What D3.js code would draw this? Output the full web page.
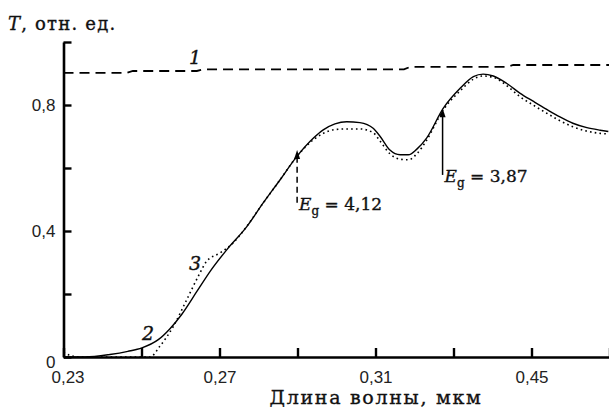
<!DOCTYPE html>
<html><head><meta charset="utf-8">
<script src="https://cdn.jsdelivr.net/npm/d3@7"></script>
<style>
html,body{margin:0;padding:0;background:#fff;}
svg{display:block;}
.tick text{font-family:"Liberation Sans Narrow","Liberation Sans",Arial,sans-serif;font-size:17px;fill:#222;}
.serif{font-family:"DejaVu Serif","Liberation Serif",serif;fill:#111;stroke:#111;stroke-width:0.35;}
</style></head>
<body>
<script>
// ---- data ----
const xTicks = [0.23,0.25,0.27,0.29,0.31,0.33,0.35,0.37];
const xTickLabels = ["0,23","","0,27","","0,31","","0,45",""];
const yTicks = [0,0.2,0.4,0.6,0.8,1.0];
const yTickLabels = ["0","","0,4","","0,8",""];

// curve 1 (dashed)
const c1x = [0.23,0.2462,0.2478,0.2642,0.2658,0.3173,0.3189,0.3437,0.3453,0.37];
const c1y = [0.902,0.902,0.908,0.908,0.913,0.913,0.921,0.921,0.927,0.927];

// curve 2 (solid)
const c2x = [0.23,0.2355,0.2419,0.2465,0.2501,0.2543,0.2573,0.2603,0.2642,0.2676,0.2719,0.2770,0.2812,0.2855,0.2898,0.2941,0.2966,0.2996,0.3026,0.3060,0.3094,0.3112,0.3137,0.3163,0.3184,0.3206,0.3231,0.3274,0.3317,0.3351,0.3376,0.3402,0.3436,0.3471,0.3504,0.3539,0.3573,0.3606,0.3642,0.3676,0.3697];
const c2y = [0.0,0.0,0.008,0.018,0.029,0.055,0.09,0.135,0.208,0.272,0.341,0.414,0.489,0.562,0.636,0.695,0.721,0.740,0.747,0.744,0.726,0.700,0.657,0.642,0.642,0.660,0.695,0.790,0.853,0.890,0.898,0.892,0.869,0.837,0.812,0.786,0.762,0.742,0.728,0.720,0.716];

// curve 3 (dotted)
const c3x = [0.23,0.2317,0.2342,0.2522,0.2547,0.2582,0.2616,0.2650,0.2667,0.2701,0.2735,0.2757,0.2812,0.2855,0.2898,0.2941,0.2966,0.2996,0.3026,0.3060,0.3094,0.3112,0.3137,0.3163,0.3184,0.3206,0.3231,0.3274,0.3317,0.3351,0.3376,0.3402,0.3436,0.3471,0.3504,0.3539,0.3573,0.3606,0.3642,0.3676,0.3697];
const c3y = [0.015,0.005,0.0,0.0,0.034,0.098,0.182,0.267,0.304,0.330,0.362,0.394,0.489,0.562,0.636,0.690,0.710,0.722,0.724,0.724,0.712,0.685,0.645,0.628,0.626,0.645,0.688,0.785,0.845,0.882,0.892,0.888,0.862,0.826,0.800,0.774,0.750,0.731,0.717,0.710,0.708];

// annotations
const curveLabels = ["1","2","3"];
const curveLabelX = [0.2622,0.2501,0.2622];
const curveLabelY = [0.930,0.055,0.277];
const egText = ["4,12","3,87"];
const egX = [0.2899,0.3272];
const egTip = [0.657,0.790];
const egBase = [0.490,0.578];

// ---- layout ----
const W=609,H=411;
const svg=d3.select("body").append("svg").attr("width",W).attr("height",H);
const x=d3.scaleLinear().domain([0.23,0.37]).range([63.5,609.5]);
const y=d3.scaleLinear().domain([0,1]).range([357,42]);

// axes
const xAxis=d3.axisBottom(x).tickValues(xTicks).tickFormat((d,i)=>xTickLabels[i])
  .tickSizeInner(-9).tickSizeOuter(0).tickPadding(14);
const gx=svg.append("g").attr("transform",`translate(0,${y(0)})`).call(xAxis);
const yAxis=d3.axisLeft(y).tickValues(yTicks).tickFormat((d,i)=>yTickLabels[i])
  .tickSizeInner(-8).tickSizeOuter(0).tickPadding(8);
const gy=svg.append("g").attr("transform",`translate(${x(0.23)},0)`).call(yAxis);
[gx,gy].forEach(g=>{
  g.select(".domain").attr("stroke","#000").attr("stroke-width",2.6);
  g.selectAll(".tick line").attr("stroke","#000").attr("stroke-width",2.4);
});
gy.selectAll(".tick text").filter((d)=>d===0).attr("dy","0.6em");
gx.selectAll(".tick text").filter((d)=>d===0.23).attr("dx","4");

// curves
const line=d3.line().curve(d3.curveMonotoneX);
function pts(xs,ys){return xs.map((v,i)=>[x(v),y(ys[i])]);}
svg.append("path").attr("d",d3.line()(pts(c1x,c1y))).attr("fill","none")
  .attr("stroke","#000").attr("stroke-width",1.8).attr("stroke-dasharray","10,6");
svg.append("path").attr("d",line(pts(c3x,c3y))).attr("fill","none")
  .attr("stroke","#000").attr("stroke-width",1.6).attr("stroke-dasharray","1.6,3.2");
svg.append("path").attr("d",line(pts(c2x,c2y))).attr("fill","none")
  .attr("stroke","#000").attr("stroke-width",1.4);

// arrows
egX.forEach((v,i)=>{
  const ax=x(v), ty=y(egTip[i]), by=y(egBase[i]);
  svg.append("line").attr("x1",ax).attr("x2",ax).attr("y1",by).attr("y2",ty+7)
    .attr("stroke","#000").attr("stroke-width",1.5)
    .attr("stroke-dasharray",i===0?"6,4":null);
  svg.append("path").attr("d",`M${ax},${ty} L${ax-3},${ty+9} L${ax+3},${ty+9} Z`).attr("fill","#000");
  const t=svg.append("text").attr("class","serif").attr("x",ax+2).attr("y",by+7).attr("font-size",17);
  t.append("tspan").attr("font-style","italic").text("E");
  t.append("tspan").attr("font-size",12).attr("dy",5).text("g");
  t.append("tspan").attr("dy",-5).text(" = "+egText[i]);
});

// curve labels
curveLabels.forEach((s,i)=>{
  svg.append("text").attr("class","serif").attr("x",x(curveLabelX[i])).attr("y",y(curveLabelY[i]))
    .attr("font-size",19).attr("font-style","italic").text(s);
});

// titles
const yt=svg.append("text").attr("class","serif").attr("x",8).attr("y",30).attr("font-size",18)
  .attr("letter-spacing",1.2);
yt.append("tspan").attr("font-style","italic").text("T");
yt.append("tspan").text(", отн. ед.");
svg.append("text").attr("class","serif").attr("x",376).attr("y",404).attr("text-anchor","middle")
  .attr("font-size",19).attr("letter-spacing",1.7).text("Длина волны, мкм");
</script>
</body></html>
